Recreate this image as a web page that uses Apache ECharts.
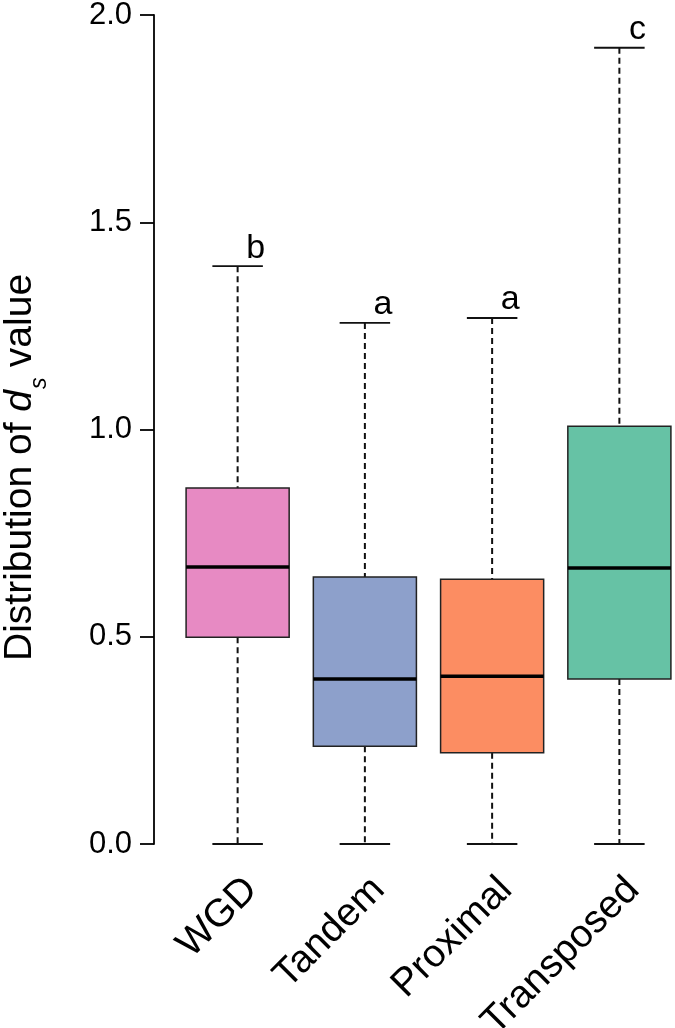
<!DOCTYPE html>
<html>
<head>
<meta charset="utf-8">
<script src="https://cdn.jsdelivr.net/npm/echarts@6/dist/echarts.min.js"></script>
<style>
  html, body { margin: 0; padding: 0; background: #fff; }
  #chart { width: 675px; height: 1028px; }
</style>
</head>
<body>
<div id="chart"></div>
<script>
// groups on the x axis
const categories = ['WGD', 'Tandem', 'Proximal', 'Transposed'];
// box plot stats (ds values)
const whiskerLow = [0, 0, 0, 0];
const q1 = [0.499, 0.236, 0.220, 0.398];
const medians = [0.668, 0.398, 0.405, 0.666];
const q3 = [0.859, 0.644, 0.639, 1.008];
const whiskerHigh = [1.394, 1.257, 1.269, 1.921];
// significance letters
const letters = ['b', 'a', 'a', 'c'];
// y ticks
const yTicks = [0, 0.5, 1.0, 1.5, 2.0];

const boxColors = ['#e78ac3', '#8da0cb', '#fc8d62', '#66c2a5'];
const FONT = '"Liberation Sans", Arial, Helvetica, sans-serif';

const boxData = categories.map((c, i) => [i, whiskerLow[i], q1[i], medians[i], q3[i], whiskerHigh[i]]);

function renderBox(params, api) {
  const idx = api.value(0);
  const band = api.size([1, 0])[0];
  const bw = band * 0.81;
  const cw = bw * 0.49;
  const cx = api.coord([idx, 0])[0];
  const yLo = api.coord([idx, api.value(1)])[1];
  const yQ1 = api.coord([idx, api.value(2)])[1];
  const yMed = api.coord([idx, api.value(3)])[1];
  const yQ3 = api.coord([idx, api.value(4)])[1];
  const yHi = api.coord([idx, api.value(5)])[1];
  const dash = { stroke: '#111', lineWidth: 2, lineDash: [6, 4] };
  const solid = { stroke: '#111', lineWidth: 1.8 };
  return {
    type: 'group',
    children: [
      { type: 'line', shape: { x1: cx, y1: yHi, x2: cx, y2: yQ3 }, style: dash },
      { type: 'line', shape: { x1: cx, y1: yQ1, x2: cx, y2: yLo }, style: dash },
      { type: 'line', shape: { x1: cx - cw / 2, y1: yHi, x2: cx + cw / 2, y2: yHi }, style: solid },
      { type: 'line', shape: { x1: cx - cw / 2, y1: yLo, x2: cx + cw / 2, y2: yLo }, style: solid },
      {
        type: 'rect',
        shape: { x: cx - bw / 2, y: yQ3, width: bw, height: yQ1 - yQ3 },
        style: { fill: boxColors[params.dataIndex], stroke: '#222', lineWidth: 1.5 },
      },
      { type: 'line', shape: { x1: cx - bw / 2, y1: yMed, x2: cx + bw / 2, y2: yMed }, style: { stroke: '#000', lineWidth: 3.5 } },
      {
        type: 'text',
        x: cx + 18,
        y: yHi - 1,
        style: {
          text: letters[params.dataIndex],
          fontSize: 34,
          fontFamily: FONT,
          fill: '#000',
          align: 'center',
          verticalAlign: 'bottom',
        },
      },
    ],
  };
}

const chart = echarts.init(document.getElementById('chart'));
const option = {
  animation: false,
  grid: { left: 174, top: 15, width: 509, height: 829, containLabel: false, outerBoundsMode: 'none' },
  xAxis: {
    type: 'category',
    data: categories,
    boundaryGap: true,
    axisLine: { show: false },
    axisTick: { show: false },
    axisLabel: {
      rotate: 45,
      margin: 26,
      align: 'right',
      verticalAlign: 'top',
      fontSize: 39,
      fontFamily: FONT,
      color: '#000',
    },
  },
  yAxis: {
    type: 'value',
    min: 0,
    max: 2,
    interval: 0.5,
    offset: 20,
    splitLine: { show: false },
    axisLine: { show: true, lineStyle: { color: '#000', width: 1.8 } },
    axisTick: { show: true, length: 14, lineStyle: { color: '#000', width: 1.8 } },
    axisLabel: {
      margin: 22,
      fontSize: 31,
      fontFamily: FONT,
      color: '#000',
      formatter: (v) => (yTicks.indexOf(v) >= 0 ? v.toFixed(1) : ''),
    },
  },
  graphic: [{
    type: 'group',
    x: 40,
    y: 390,
    rotation: Math.PI / 2,
    children: [
      {
        type: 'text', x: 0, y: 0,
        style: {
          text: 'Distribution of {i|d}', fontSize: 39, fontFamily: FONT, fill: '#000',
          align: 'right', verticalAlign: 'bottom',
          rich: { i: { fontSize: 39, fontFamily: FONT, fontStyle: 'italic', fill: '#000' } },
        },
      },
      {
        type: 'text', x: 1, y: 11,
        style: { text: 's', fontSize: 23, fontStyle: 'italic', fontFamily: FONT, fill: '#000', align: 'left', verticalAlign: 'bottom' },
      },
      {
        type: 'text', x: 12, y: 0,
        style: { text: ' value', fontSize: 39, fontFamily: FONT, fill: '#000', align: 'left', verticalAlign: 'bottom' },
      },
    ],
  }],
  series: [{
    type: 'custom',
    renderItem: renderBox,
    encode: { x: 0, y: [1, 2, 3, 4, 5] },
    data: boxData,
  }],
};
chart.setOption(option);
</script>
</body>
</html>
